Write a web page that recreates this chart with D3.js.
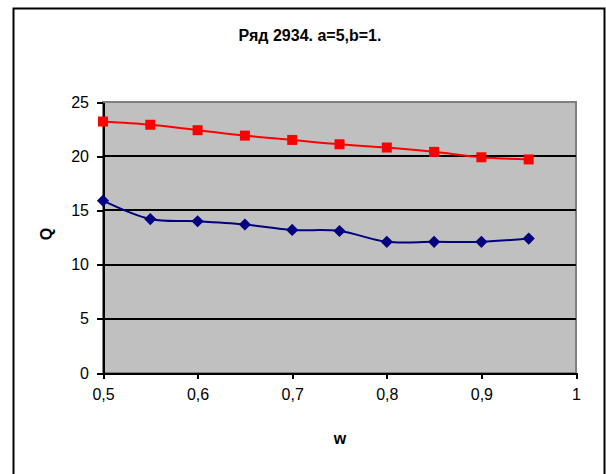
<!DOCTYPE html>
<head>
    <meta charset="utf-8">
    <script src="https://d3js.org/d3.v7.min.js"></script>
    <style>
        body { margin: 0; background: #fff; font-family: "Liberation Sans", Arial, sans-serif; }
        .axis text { font-size: 16px; font-family: "Liberation Sans", Arial, sans-serif; fill: #000; }
        .axis path, .axis line { stroke: #000; stroke-width: 2px; shape-rendering: crispEdges; }
    </style>
</head>
<body>
<div id="block"></div>
<script>
    // data
    var wValues = [0.5, 0.55, 0.6, 0.65, 0.7, 0.75, 0.8, 0.85, 0.9, 0.95];
    var redQ = [23.2, 22.9, 22.4, 21.9, 21.5, 21.1, 20.8, 20.4, 19.9, 19.7];
    var blueQ = [15.9, 14.2, 14.0, 13.7, 13.2, 13.1, 12.1, 12.1, 12.1, 12.4];
    var xTicks = [0.5, 0.6, 0.7, 0.8, 0.9, 1];
    var yTicks = [0, 5, 10, 15, 20, 25];
    var title = "Ряд 2934. a=5,b=1.";

    var width = 606, height = 474;
    var margin = { top: 102, right: 30, bottom: 101, left: 103 };

    var svg = d3.select("#block").append("svg")
        .attr("width", width)
        .attr("height", height);

    // outer chart border
    svg.append("rect")
        .attr("x", 13.5).attr("y", 8.5)
        .attr("width", 591).attr("height", 480)
        .attr("fill", "#fff").attr("stroke", "#000").attr("stroke-width", 2);

    var x = d3.scaleLinear().domain([0.5, 1]).range([margin.left, width - margin.right]);
    var y = d3.scaleLinear().domain([0, 25]).range([height - margin.bottom, margin.top]);

    // plot area
    svg.append("rect")
        .attr("x", x(0.5)).attr("y", y(25))
        .attr("width", x(1) - x(0.5)).attr("height", y(0) - y(25))
        .attr("fill", "#c0c0c0").attr("stroke", "#808080").attr("stroke-width", 2);

    // gridlines
    svg.append("g").selectAll("line")
        .data(yTicks.filter(function (d) { return d > 0 && d < 25; }))
        .join("line")
        .attr("x1", x(0.5)).attr("x2", x(1))
        .attr("y1", function (d) { return Math.round(y(d)); })
        .attr("y2", function (d) { return Math.round(y(d)); })
        .attr("stroke", "#000").attr("stroke-width", 2);

    var fmt = function (d) { return String(d).replace(".", ","); };

    svg.append("g")
        .attr("class", "axis")
        .attr("transform", "translate(0," + y(0) + ")")
        .call(d3.axisBottom(x).tickValues(xTicks).tickFormat(fmt).tickSize(6).tickSizeOuter(0).tickPadding(10));

    svg.append("g")
        .attr("class", "axis")
        .attr("transform", "translate(" + x(0.5) + ",0)")
        .call(d3.axisLeft(y).tickValues(yTicks).tickSize(6).tickSizeOuter(0).tickPadding(8));

    // smoothed lines like Excel
    var line = d3.line()
        .x(function (d, i) { return x(wValues[i]); })
        .y(function (d) { return y(d); })
        .curve(d3.curveCardinal.tension(0));

    svg.append("path").datum(redQ)
        .attr("d", line).attr("fill", "none")
        .attr("stroke", "#ff0000").attr("stroke-width", 2);

    svg.append("path").datum(blueQ)
        .attr("d", line).attr("fill", "none")
        .attr("stroke", "#000080").attr("stroke-width", 2);

    svg.append("g").selectAll("rect")
        .data(redQ)
        .join("rect")
        .attr("x", function (d, i) { return x(wValues[i]) - 5; })
        .attr("y", function (d) { return y(d) - 5; })
        .attr("width", 10).attr("height", 10)
        .attr("fill", "#ff0000");

    svg.append("g").selectAll("path")
        .data(blueQ)
        .join("path")
        .attr("d", d3.symbol().type(d3.symbolDiamond2).size(95))
        .attr("transform", function (d, i) { return "translate(" + x(wValues[i]) + "," + y(d) + ")"; })
        .attr("fill", "#000080");

    // titles
    svg.append("text")
        .attr("x", 310).attr("y", 41)
        .attr("text-anchor", "middle")
        .style("font-size", "16px").style("font-weight", "bold")
        .text(title);

    svg.append("text")
        .attr("x", 340).attr("y", 444)
        .attr("text-anchor", "middle")
        .style("font-size", "16px").style("font-weight", "bold")
        .text("w");

    svg.append("text")
        .attr("transform", "translate(52,234) rotate(-90)")
        .attr("text-anchor", "middle")
        .style("font-size", "16px").style("font-weight", "bold")
        .text("Q");
</script>
</body>
